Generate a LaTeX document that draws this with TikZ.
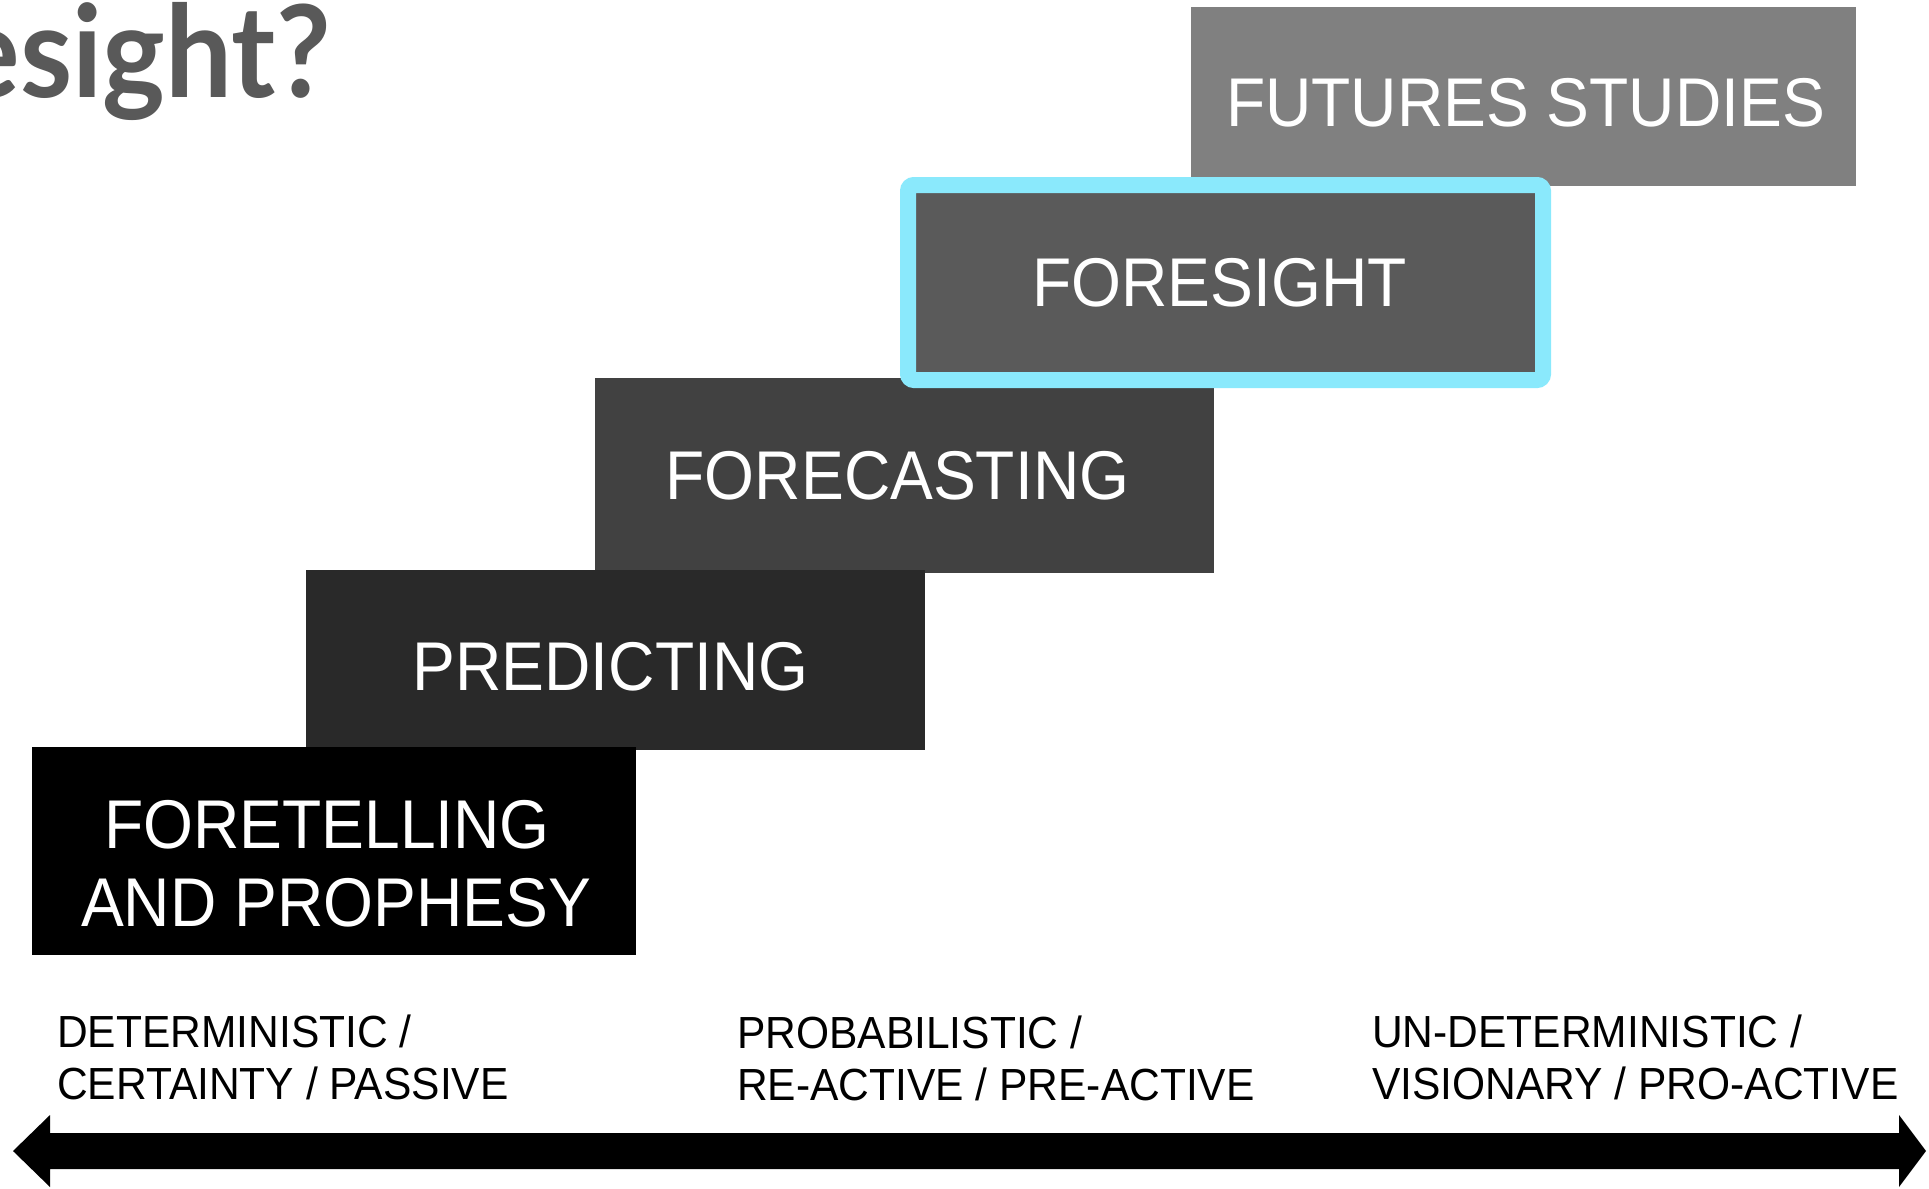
\documentclass[tikz,border=0pt]{standalone}
\usepackage{fontspec}
\setmainfont{Liberation Sans}[FakeStretch=0.93]
\newfontfamily\scalefont{Liberation Sans}[FakeStretch=0.945]
\newfontfamily\titlefont{Lato Bold}[FakeStretch=0.93]
\usepackage{tikz}

\definecolor{futuresgray}{HTML}{808080}
\definecolor{foresightgray}{HTML}{5A5A5A}
\definecolor{forecastgray}{HTML}{414141}
\definecolor{predictgray}{HTML}{292929}
\definecolor{glowcyan}{HTML}{8AE9FC}
\definecolor{titlegray}{HTML}{595959}

\tikzset{
  stair/.style = {inner sep = 0},
  stair text/.style = {inner sep = 0, text = white, align = center,
                  font = \fontsize{69}{78}\selectfont},
  scale label/.style = {inner sep = 0, anchor = north west, align = left,
                  font = \scalefont\fontsize{45}{52}\selectfont}
}

\begin{document}
\begin{tikzpicture}[x = 1pt, y = -1pt]
        \useasboundingbox (0, 0) rectangle (1929, 1188);
        \clip (0, 0) rectangle (1929, 1188);

        % heading, cut at the left edge
        \node[anchor = base east, inner sep = 0, text = titlegray,
              font = \titlefont\fontsize{128}{128}\selectfont] (title) at (331, 98) {esight?};

        % the stairs
        \node[stair, fill = futuresgray, minimum width = 665, minimum height = 179] (futures) at (1523.5, 96.5) {};
        \node[stair, fill = forecastgray, minimum width = 619, minimum height = 195] (forecasting) at (904.5, 475.5) {};
        \node[stair, fill = predictgray, minimum width = 619, minimum height = 180] (predicting) at (615.5, 660) {};
        \node[stair, fill = black, minimum width = 604, minimum height = 208] (foretelling) at (334, 851) {};
        \node[stair, fill = foresightgray, draw = glowcyan, line width = 16, rounded corners = 6,
              minimum width = 635, minimum height = 195] (foresight) at (1225.5, 282.5) {};

        \node[stair text] (futures text) at ([shift = {(2, 6)}]futures.center) {FUTURES STUDIES};
        \node[stair text] (foresight text) at ([shift = {(-6, 0)}]foresight.center) {FORESIGHT};
        \node[stair text] (forecasting text) at ([shift = {(-7, 0)}]forecasting.center) {FORECASTING};
        \node[stair text] (predicting text) at ([shift = {(-5, 7)}]predicting.center) {PREDICTING};
        \node[stair text] (foretelling text) at ([shift = {(2, 13)}]foretelling.center) {FORETELLING\kern18pt\\AND PROPHESY};

        % scale below
        \node[scale label] (passive) at (57, 1015) {DETERMINISTIC /\\CERTAINTY / PASSIVE};
        \node[scale label] (reactive) at (737, 1016) {PROBABILISTIC /\\RE-ACTIVE / PRE-ACTIVE};
        \node[scale label] (proactive) at (1372, 1015) {UN-DETERMINISTIC /\\VISIONARY / PRO-ACTIVE};

        \coordinate (leftend) at (13, 1151);
        \coordinate (rightend) at (1926, 1151);
        \fill[black] (leftend) -- ++(37, -36) -- ++(0, 18) -- ++(1849, 0) -- ++(0, -18)
              -- (rightend) -- ++(-27, 36) -- ++(0, -18) -- ++(-1849, 0) -- ++(0, 18) -- cycle;
\end{tikzpicture}
\end{document}
